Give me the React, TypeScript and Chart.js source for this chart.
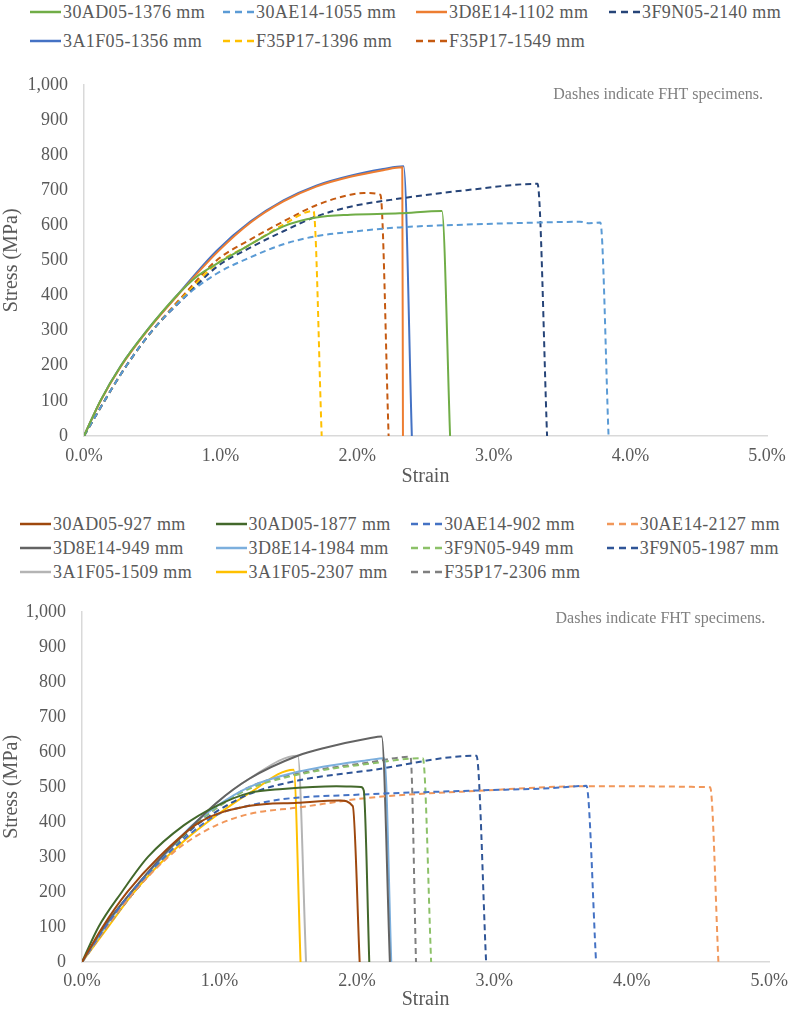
import { useEffect, useRef } from "react"
import { Chart, registerables } from "chart.js"

Chart.register(...registerables)

const FONT = '"Liberation Serif", "Times New Roman", serif'
const TEXT = "#595959"

// x ticks (strain, %) and y ticks (stress, MPa)
const xTickValues = [0, 1, 2, 3, 4, 5]
const yTickValues = [0, 100, 200, 300, 400, 500, 600, 700, 800, 900, 1000]
const xTitle = "Strain"
const yTitle = "Stress (MPa)"
const note = "Dashes indicate FHT specimens."

// top panel: [strain %, stress MPa]
const t30AD05_1376 = [[0, 0], [0.12, 100], [0.27, 200], [0.46, 300], [0.68, 400], [0.82, 452], [0.97, 490], [1.22, 546], [1.46, 597], [1.7, 622], [1.95, 630], [2.31, 634], [2.62, 641], [2.68, 0]]
const t30AE14_1055 = [[0, 0], [0.15, 100], [0.31, 200], [0.5, 300], [0.75, 400], [0.97, 462], [1.22, 509], [1.46, 546], [1.7, 569], [1.95, 581], [2.31, 594], [2.8, 602], [3.34, 608], [3.63, 610], [3.7, 606], [3.78, 608], [3.84, 0]]
const t3D8E14_1102 = [[0, 0], [0.12, 99], [0.27, 198], [0.46, 298], [0.68, 398], [0.98, 525], [1.22, 608], [1.46, 668], [1.7, 710], [1.95, 738], [2.19, 757], [2.33, 765], [2.335, 0]]
const t3F9N05_2140 = [[0, 0], [0.15, 100], [0.31, 200], [0.5, 300], [0.75, 400], [0.97, 481], [1.22, 537], [1.46, 583], [1.7, 625], [1.95, 653], [2.31, 676], [2.8, 700], [3.32, 718], [3.39, 0]]
const t3A1F05_1356 = [[0, 0], [0.12, 100], [0.27, 200], [0.46, 300], [0.68, 400], [0.97, 527], [1.22, 611], [1.46, 671], [1.7, 713], [1.95, 741], [2.19, 760], [2.34, 768], [2.4, 0]]
const tF35P17_1396 = [[0, 0], [0.15, 100], [0.31, 200], [0.5, 300], [0.75, 405], [0.97, 490], [1.22, 546], [1.46, 602], [1.68, 641], [1.74, 0]]
const tF35P17_1549 = [[0, 0], [0.15, 100], [0.31, 200], [0.5, 300], [0.75, 410], [0.97, 500], [1.22, 560], [1.46, 611], [1.7, 657], [1.95, 687], [2.05, 692], [2.17, 687], [2.23, 0]]

// bottom panel
const b30AD05_927 = [[0, 0], [0.15, 100], [0.33, 200], [0.56, 300], [0.86, 400], [1.22, 446], [1.57, 455], [1.88, 461], [1.97, 445], [2.02, 0]]
const b30AD05_1877 = [[0, 0], [0.12, 100], [0.29, 200], [0.48, 300], [0.74, 390], [0.98, 446], [1.22, 483], [1.46, 494], [1.85, 502], [2.03, 500], [2.05, 490], [2.09, 0]]
const b30AE14_902 = [[0, 0], [0.17, 100], [0.36, 200], [0.6, 300], [0.8, 370], [0.98, 420], [1.22, 447], [1.46, 465], [2.02, 478], [2.89, 490], [3.4, 496], [3.67, 503], [3.74, 0]]
const b30AE14_2127 = [[0, 0], [0.18, 100], [0.38, 200], [0.6, 290], [0.74, 336], [0.98, 391], [1.22, 423], [1.57, 441], [2.09, 469], [2.89, 489], [3.67, 502], [4.57, 499], [4.63, 0]]
const b3D8E14_949 = [[0, 0], [0.16, 100], [0.36, 200], [0.58, 300], [0.74, 364], [0.98, 455], [1.22, 524], [1.57, 589], [1.77, 612], [2.09, 639], [2.18, 644], [2.24, 0]]
const b3D8E14_1984 = [[0, 0], [0.17, 100], [0.36, 200], [0.6, 305], [0.8, 390], [0.98, 445], [1.22, 500], [1.57, 543], [2.09, 577], [2.2, 582], [2.25, 0]]
const b3F9N05_949 = [[0, 0], [0.18, 100], [0.38, 200], [0.6, 300], [0.8, 385], [0.98, 440], [1.22, 495], [1.57, 535], [2.09, 566], [2.48, 582], [2.54, 0]]
const b3F9N05_1987 = [[0, 0], [0.18, 100], [0.38, 200], [0.6, 300], [0.8, 380], [0.98, 430], [1.22, 480], [1.57, 518], [2.09, 547], [2.87, 589], [2.94, 0]]
const b3A1F05_1509 = [[0, 0], [0.16, 100], [0.36, 200], [0.58, 300], [0.74, 364], [0.98, 455], [1.22, 524], [1.57, 589], [1.63, 0]]
const b3A1F05_2307 = [[0, 0], [0.19, 100], [0.37, 195], [0.52, 262], [0.74, 345], [0.98, 419], [1.22, 483], [1.54, 549], [1.59, 0]]
const bF35P17_2306 = [[0, 0], [0.18, 100], [0.38, 200], [0.6, 300], [0.8, 385], [0.98, 440], [1.22, 500], [1.57, 538], [2.09, 570], [2.39, 586], [2.43, 0]]

type Series = { name: string; color: string; dashed: boolean; points: number[][] }

const topSeries: Series[] = [
  { name: "30AD05-1376 mm", color: "#70AD47", dashed: false, points: t30AD05_1376 },
  { name: "30AE14-1055 mm", color: "#5B9BD5", dashed: true, points: t30AE14_1055 },
  { name: "3D8E14-1102 mm", color: "#ED7D31", dashed: false, points: t3D8E14_1102 },
  { name: "3F9N05-2140 mm", color: "#264478", dashed: true, points: t3F9N05_2140 },
  { name: "3A1F05-1356 mm", color: "#4472C4", dashed: false, points: t3A1F05_1356 },
  { name: "F35P17-1396 mm", color: "#FFC000", dashed: true, points: tF35P17_1396 },
  { name: "F35P17-1549 mm", color: "#C55A11", dashed: true, points: tF35P17_1549 },
]

const bottomSeries: Series[] = [
  { name: "30AD05-927 mm", color: "#9E480E", dashed: false, points: b30AD05_927 },
  { name: "30AD05-1877 mm", color: "#43682B", dashed: false, points: b30AD05_1877 },
  { name: "30AE14-902 mm", color: "#4472C4", dashed: true, points: b30AE14_902 },
  { name: "30AE14-2127 mm", color: "#F1975A", dashed: true, points: b30AE14_2127 },
  { name: "3D8E14-949 mm", color: "#636363", dashed: false, points: b3D8E14_949 },
  { name: "3D8E14-1984 mm", color: "#7CAFDD", dashed: false, points: b3D8E14_1984 },
  { name: "3F9N05-949 mm", color: "#8CC168", dashed: true, points: b3F9N05_949 },
  { name: "3F9N05-1987 mm", color: "#2F5597", dashed: true, points: b3F9N05_1987 },
  { name: "3A1F05-1509 mm", color: "#B4B4B4", dashed: false, points: b3A1F05_1509 },
  { name: "3A1F05-2307 mm", color: "#FFC000", dashed: false, points: b3A1F05_2307 },
  { name: "F35P17-2306 mm", color: "#7F7F7F", dashed: true, points: bF35P17_2306 },
]

const notePlugin = {
  id: "note",
  afterDraw(chart: any, _args: any, opts: any) {
    const { ctx, chartArea } = chart
    ctx.save()
    ctx.font = `16px ${FONT}`
    ctx.fillStyle = "#7F7F7F"
    ctx.textAlign = "right"
    ctx.textBaseline = "middle"
    ctx.fillText(note, chartArea.right - 4, chartArea.top + opts.dy)
    ctx.restore()
  },
}

type Area = { left: number; right: number; top: number; xAxisHeight: number }

function StressStrainChart({ series, top, height, area, noteDy, tickPad, titlePad }: {
  series: Series[]; top: number; height: number; area: Area; noteDy: number; tickPad: number; titlePad: number
}) {
  const canvasRef = useRef<HTMLCanvasElement>(null)

  useEffect(() => {
    if (!canvasRef.current) return
    const tickFont = { family: FONT, size: 18 }
    const titleFont = { family: FONT, size: 20 }
    const chart = new Chart(canvasRef.current, {
      type: "line",
      data: {
        datasets: series.map((s) => ({
          label: s.name,
          data: s.points.map(([x, y]) => ({ x, y })),
          borderColor: s.color,
          backgroundColor: s.color,
          borderWidth: 2,
          borderDash: s.dashed ? [6, 4] : [],
          pointRadius: 0,
          cubicInterpolationMode: "monotone",
          fill: false,
        })),
      },
      options: {
        animation: false,
        responsive: false,
        maintainAspectRatio: false,
        layout: { padding: { top: area.top, right: area.right, left: 0, bottom: 0 } },
        plugins: {
          legend: { display: false },
          tooltip: { enabled: false },
          note: { dy: noteDy },
        } as any,
        scales: {
          x: {
            type: "linear",
            min: 0,
            max: 5,
            afterBuildTicks: (s: any) => {
              s.ticks = xTickValues.map((value) => ({ value }))
            },
            afterFit: (s: any) => {
              s.height = area.xAxisHeight
            },
            grid: { display: false, drawTicks: false },
            border: { display: true, color: "#D9D9D9", width: 1.5 },
            ticks: {
              color: TEXT,
              font: tickFont,
              padding: tickPad,
              maxRotation: 0,
              autoSkip: false,
              callback: (v: any) => Number(v).toFixed(1) + "%",
            },
            title: { display: true, text: xTitle, color: TEXT, font: titleFont, padding: { top: 0, bottom: titlePad } },
          },
          y: {
            type: "linear",
            min: 0,
            max: 1000,
            afterBuildTicks: (s: any) => {
              s.ticks = yTickValues.map((value) => ({ value }))
            },
            afterFit: (s: any) => {
              s.width = area.left
            },
            grid: { display: false, drawTicks: false },
            border: { display: true, color: "#D9D9D9", width: 1.5 },
            ticks: {
              color: TEXT,
              font: tickFont,
              padding: 16,
              autoSkip: false,
              callback: (v: any) => Number(v).toLocaleString("en-US"),
            },
            title: { display: true, text: yTitle, color: TEXT, font: titleFont, padding: { top: 0, bottom: 0 } },
          },
        },
      },
      plugins: [notePlugin as any],
    })
    return () => chart.destroy()
  }, [])

  return (
    <div style={{ position: "absolute", left: 0, top, width: 796, height }}>
      <canvas ref={canvasRef} width={796} height={height} style={{ width: 796, height }} />
    </div>
  )
}

function Legend({ series, left, top, colWidth, rowGap }: {
  series: Series[]; left: number; top: number; colWidth: number; rowGap: number
}) {
  return (
    <>
      {series.map((s, i) => {
        const col = i % 4
        const row = Math.floor(i / 4)
        return (
          <div
            key={s.name}
            style={{
              position: "absolute",
              left: left + col * colWidth,
              top: top + row * rowGap - 12,
              height: 24,
              display: "flex",
              alignItems: "center",
              whiteSpace: "nowrap",
            }}
          >
            <svg width={31} height={4} style={{ flex: "none" }}>
              <line x1={0} y1={2} x2={31} y2={2} stroke={s.color} strokeWidth={2.5} strokeDasharray={s.dashed ? "7,5" : undefined} />
            </svg>
            <span style={{ marginLeft: 2, fontFamily: FONT, fontSize: 18, letterSpacing: 0.4, color: TEXT }}>
              {s.name}
            </span>
          </div>
        )
      })}
    </>
  )
}

export default function App() {
  return (
    <div style={{ position: "absolute", left: 0, top: 0, width: 796, height: 1012, background: "#fff", overflow: "hidden" }}>
      <Legend series={topSeries} left={30} top={12} colWidth={193} rowGap={29} />
      <StressStrainChart
        series={topSeries}
        top={58}
        height={432}
        area={{ left: 84, right: 29, top: 19, xAxisHeight: 54 }}
        noteDy={10}
        tickPad={9}
        titlePad={1}
      />
      <Legend series={bottomSeries} left={20} top={524} colWidth={195.6} rowGap={24} />
      <StressStrainChart
        series={bottomSeries}
        top={585}
        height={427}
        area={{ left: 82, right: 26, top: 14, xAxisHeight: 50 }}
        noteDy={7}
        tickPad={8}
        titlePad={0}
      />
    </div>
  )
}
